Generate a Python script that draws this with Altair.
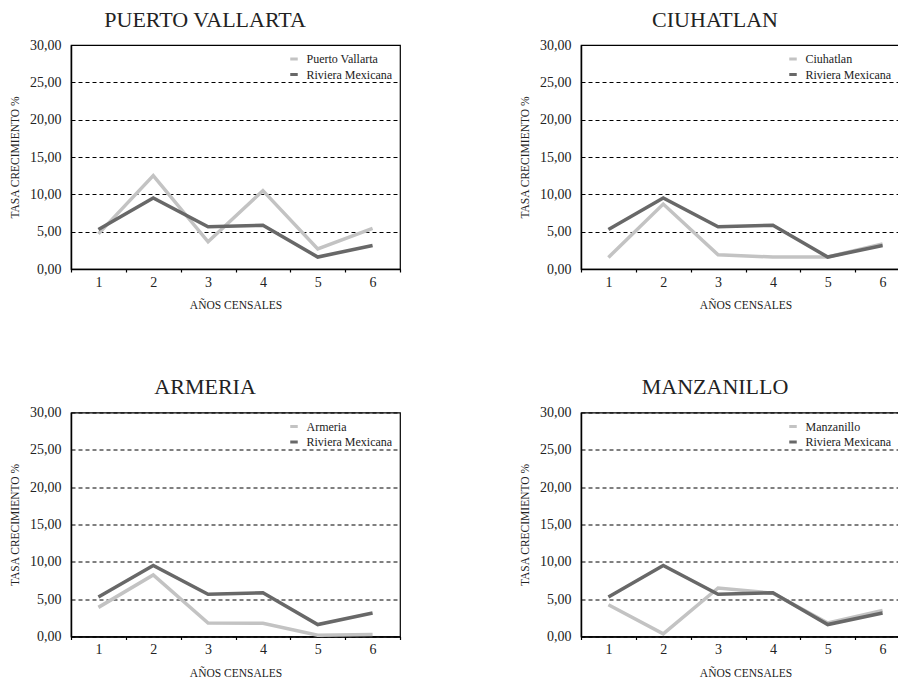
import altair as alt
import pandas as pd

years = [1, 2, 3, 4, 5, 6]
riviera = [5.3, 9.5, 5.65, 5.85, 1.6, 3.15]
places = ["Puerto Vallarta", "Ciuhatlan", "Armeria", "Manzanillo"]
titles = ["PUERTO VALLARTA", "CIUHATLAN", "ARMERIA", "MANZANILLO"]
puerto_vallarta = [4.7, 12.5, 3.65, 10.5, 2.7, 5.45]
ciuhatlan = [1.55, 8.7, 1.9, 1.6, 1.6, 3.35]
armeria = [3.9, 8.25, 1.8, 1.78, 0.18, 0.27]
manzanillo = [4.25, 0.35, 6.5, 5.8, 1.8, 3.5]
series = [puerto_vallarta, ciuhatlan, armeria, manzanillo]

LIGHT = "#c3c3c3"
DARK = "#686868"
FONT = "Liberation Serif"

panels = []
for i, (place, title, vals) in enumerate(zip(places, titles, series)):
    rows = []
    for y, v in zip(years, vals):
        rows.append({"year": str(y), "value": v, "serie": place, "o": 0})
    for y, v in zip(years, riviera):
        rows.append({"year": str(y), "value": v, "serie": "Riviera Mexicana", "o": 1})
    df = pd.DataFrame(rows)
    leg_x = 217 if i % 2 == 0 else 206
    ch = alt.Chart(df).mark_line(strokeWidth=3.5).encode(
        x=alt.X("year:N", title="AÑOS CENSALES",
                scale=alt.Scale(paddingInner=0, paddingOuter=0),
                axis=alt.Axis(labelAngle=0, tickBand="extent", tickSize=3,
                              labelPadding=3, titlePadding=10.5, grid=False,
                              labelFontSize=14, titleFontSize=11.5)),
        y=alt.Y("value:Q", title="TASA CRECIMIENTO %",
                scale=alt.Scale(domain=[0, 30], nice=False),
                axis=alt.Axis(values=[0, 5, 10, 15, 20, 25, 30], tickSize=0,
                              labelPadding=10, titlePadding=9,
                              labelExpr="replace(format(datum.value, '.2f'), '.', ',')",
                              grid=True, gridDash=[4, 3], gridColor="black",
                              gridWidth=1, labelFontSize=14, titleFontSize=11.5)),
        color=alt.Color("serie:N",
                        scale=alt.Scale(domain=[place, "Riviera Mexicana"], range=[LIGHT, DARK]),
                        legend=alt.Legend(title=None, orient="none", legendX=leg_x, legendY=8,
                                          symbolType="stroke", symbolStrokeWidth=3,
                                          symbolSize=56, labelFontSize=12,
                                          labelOffset=6.5, rowPadding=3.5, padding=0)),
        order=alt.Order("o:Q"),
        detail="serie:N",
    ).properties(width=329, height=224,
                 title=alt.TitleParams(title, fontSize=22, fontWeight="normal",
                                       font=FONT, color="#222", anchor="middle",
                                       frame="bounds", offset=6.5))
    panels.append(ch)

chart = alt.concat(*panels, columns=2, spacing={"column": 116, "row": 62.5}).resolve_scale(
    color="independent").resolve_legend(color="independent").properties(
    padding={"left": 0, "top": -1, "right": -14, "bottom": 5}
).configure(
    font=FONT
).configure_axis(
    labelFont=FONT, titleFont=FONT, labelColor="#222", titleColor="#222",
    titleFontWeight="normal", domainColor="black", domainWidth=1.5,
    tickColor="black", tickWidth=1.2
).configure_legend(
    labelFont=FONT, labelColor="#222"
).configure_view(
    stroke="black", strokeWidth=1.2
).configure_title(font=FONT)

chart.save("out.html", embed_options={"renderer": "svg", "actions": False})
